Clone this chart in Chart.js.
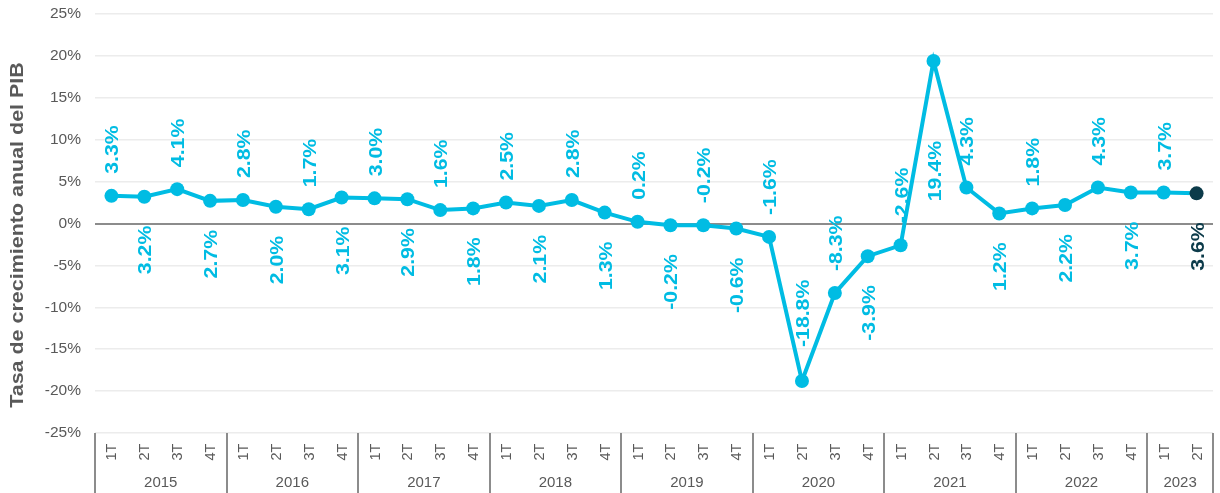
<!DOCTYPE html>
<html><head><meta charset="utf-8">
<script src="https://cdn.jsdelivr.net/npm/chart.js@4"></script>
<style>html,body{margin:0;padding:0;background:#fff}#wrap{width:1220px;height:493px;position:relative}</style>
</head><body><div id="wrap"><canvas id="c"></canvas></div>
<script>
const years = ['2015','2016','2017','2018','2019','2020','2021','2022','2023'];
const quarterNames = ['1T','2T','3T','4T'];
const quartersPerYear = [4,4,4,4,4,4,4,4,2];
const growth = [3.3,3.2,4.1,2.7, 2.8,2.0,1.7,3.1, 3.0,2.9,1.6,1.8, 2.5,2.1,2.8,1.3,
                0.2,-0.2,-0.2,-0.6, -1.6,-18.8,-8.3,-3.9, -2.6,19.4,4.3,1.2,
                1.8,2.2,4.3,3.7, 3.7,3.6];
const yTickValues = [-25,-20,-15,-10,-5,0,5,10,15,20,25];
const axisTitle = 'Tasa de crecimiento anual del PIB';

const categories = [];
years.forEach((y,i)=>{ for(let q=0;q<quartersPerYear[i];q++) categories.push(quarterNames[q]); });

const CYAN = '#00BCE3', DARK = '#0C3B4A', GRAY = '#595959';
const FONT = '"Liberation Sans", Arial, sans-serif';
const lastIdx = growth.length - 1;
const pointColors = growth.map((v,i)=> i===lastIdx ? DARK : CYAN);

const overlay = {
  id:'overlay',
  afterDatasetsDraw(chart){
    const ctx = chart.ctx;
    const meta = chart.getDatasetMeta(0);
    const minV = Math.min(...growth);
    const maxV = Math.max(...growth);
    ctx.save();
    ctx.font = 'bold 19px ' + FONT;
    meta.data.forEach((pt,i)=>{
      const v = growth[i];
      const txt = v.toFixed(1) + '%';
      const above = (i % 2 === 0) || v === minV;
      ctx.save();
      ctx.fillStyle = i===lastIdx ? DARK : CYAN;
      let ay;
      if (above) { ay = pt.y - (v === minV ? 34 : 22); }
      else { ay = pt.y + (v === maxV ? 80 : 29); }
      ctx.translate(pt.x, ay);
      ctx.rotate(-Math.PI/2);
      ctx.scale(1.12, 1);
      ctx.textAlign = above ? 'left' : 'right';
      ctx.textBaseline = 'alphabetic';
      ctx.fillText(txt, 0, 7);
      ctx.restore();
    });
    ctx.restore();
  },
  afterDraw(chart){
    const ctx = chart.ctx, xs = chart.scales.x, area = chart.chartArea;
    const top = area.bottom, bottom = chart.height;
    ctx.save();
    ctx.fillStyle = GRAY;
    ctx.font = '14.5px ' + FONT;
    categories.forEach((c,i)=>{
      const x = xs.getPixelForValue(i);
      ctx.save();
      ctx.translate(x, 452);
      ctx.rotate(-Math.PI/2);
      ctx.textAlign = 'center';
      ctx.textBaseline = 'alphabetic';
      ctx.fillText(c, 0, 5);
      ctx.restore();
    });
    ctx.font = '15px ' + FONT;
    ctx.strokeStyle = '#8c8c8c';
    ctx.lineWidth = 2;
    let start = 0;
    const bounds = [area.left];
    years.forEach((y,i)=>{
      const end = start + quartersPerYear[i] - 1;
      const xR = end === categories.length - 1 ? area.right : (xs.getPixelForValue(end) + xs.getPixelForValue(end+1)) / 2;
      const xL = bounds[bounds.length-1];
      bounds.push(xR);
      ctx.textAlign = 'center';
      ctx.textBaseline = 'middle';
      ctx.fillText(y, (xL + xR) / 2, 483);
      start = end + 1;
    });
    bounds.forEach(x=>{
      ctx.beginPath();
      ctx.moveTo(Math.round(x), top);
      ctx.lineTo(Math.round(x), bottom);
      ctx.stroke();
    });
    ctx.save();
    ctx.translate(18, 235);
    ctx.rotate(-Math.PI/2);
    ctx.scale(1.13, 1);
    ctx.font = 'bold 19px ' + FONT;
    ctx.fillStyle = GRAY;
    ctx.textAlign = 'center';
    ctx.textBaseline = 'middle';
    ctx.fillText(axisTitle, 0, 0);
    ctx.restore();
    ctx.restore();
  }
};

new Chart(document.getElementById('c'), {
  type:'line',
  data:{
    labels: categories,
    datasets:[{
      data: growth,
      borderColor: CYAN,
      borderWidth: 4,
      pointRadius: 7,
      pointHoverRadius: 7,
      pointBackgroundColor: pointColors,
      pointBorderColor: pointColors,
      pointBorderWidth: 0,
      tension: 0,
      fill: false
    }]
  },
  options:{
    responsive:true,
    maintainAspectRatio:false,
    animation:false,
    devicePixelRatio:1,
    layout:{padding:{top:14,right:7,left:0,bottom:0}},
    plugins:{legend:{display:false},tooltip:{enabled:false}},
    scales:{
      x:{
        offset:true,
        grid:{display:false},
        border:{display:false},
        ticks:{display:false},
        afterFit(s){ s.height = 60; s.paddingLeft = 0; s.paddingRight = 0; }
      },
      y:{
        min:-25, max:25,
        afterBuildTicks(s){ s.ticks = yTickValues.map(v=>({value:v})); },
        ticks:{
          callback:v=>v+'%',
          color:GRAY,
          font:{family:FONT,size:15.5},
          padding:14
        },
        grid:{
          drawTicks:false,
          color:c=> c.tick && c.tick.value===0 ? '#8c8c8c' : '#ececec',
          lineWidth:c=> c.tick && c.tick.value===0 ? 2 : 1.5
        },
        border:{display:false},
        afterFit(s){ s.width = 95; s.paddingTop = 0; s.paddingBottom = 0; }
      }
    }
  },
  plugins:[overlay]
});
</script>
</body></html>
